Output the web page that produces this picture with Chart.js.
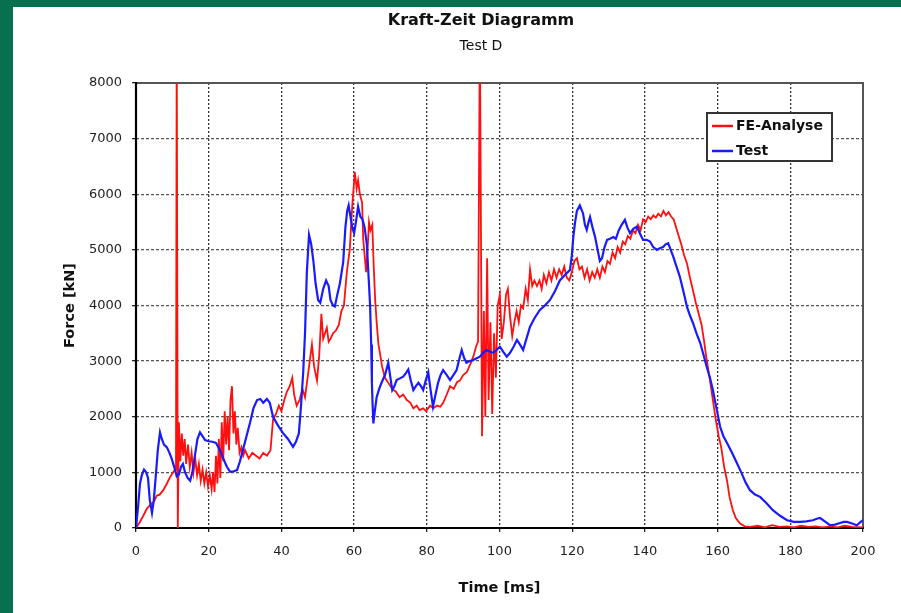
<!DOCTYPE html>
<html><head><meta charset="utf-8">
<script src="https://cdn.jsdelivr.net/npm/chart.js@4.4.1/dist/chart.umd.min.js"></script>
<style>
html,body{margin:0;padding:0;width:901px;height:613px;overflow:hidden;background:#07704f;}
#panel{position:absolute;left:13px;top:7px;width:888px;height:606px;background:#fff;}
#wrap{position:absolute;left:61px;top:0;width:840px;height:613px;}
</style></head><body>
<div id="panel"></div>
<div id="wrap"><canvas id="c" width="840" height="613"></canvas></div>
<script>
// ---- data ----
const chartTitle = 'Kraft-Zeit Diagramm';
const chartSubtitle = 'Test D';
const xTitle = 'Time [ms]';
const yTitle = 'Force [kN]';
const seriesNames = ['FE-Analyse', 'Test'];

const feTime = [0,1,2,3,4,5,5.7,6.5,7.5,8.5,9.4,10.2,10.8,11.0,11.2,11.5,11.8,12.2,12.6,13.0,13.4,13.8,14.3,14.8,15.3,15.8,16.3,16.8,17.3,17.8,18.3,18.8,19.3,19.8,20.3,20.8,21.2,21.6,22.0,22.4,22.8,23.2,23.6,24.0,24.4,24.8,25.2,25.6,26.0,26.4,26.8,27.2,27.6,28.0,28.5,29.0,29.5,30,31,32,33,34,35,36,37,37.7,38.5,39.3,40.0,40.8,41.5,42.3,43.0,43.5,44.2,45.0,45.8,46.5,47.2,47.8,48.4,49.0,49.8,50.4,51.0,51.5,52.0,52.5,53.0,53.5,54.2,55.0,55.8,56.5,57.2,58.0,58.8,59.5,60.2,60.7,61.1,61.6,62.2,62.5,62.9,63.3,63.7,64.1,64.5,65.0,65.4,65.8,66.2,66.7,67.1,67.7,68.5,69.5,70.5,71.5,72.5,73.5,74.5,75.5,76.3,77.2,78.0,79.0,79.8,80.9,81.8,82.8,83.7,84.5,85.5,86.4,87.4,88.3,89.1,90.0,91.0,92.0,92.8,93.5,94.1,94.6,95.2,95.7,96.1,96.6,97.0,97.5,98.0,98.5,99.0,99.5,100.1,100.6,101.2,101.8,102.3,102.9,103.5,104.1,104.7,105.3,105.9,106.5,107.2,107.8,108.4,109.0,109.6,110.3,111.0,111.6,112.2,112.9,113.6,114.3,115.0,115.7,116.4,117.1,117.8,118.5,119.2,119.9,120.6,121.3,122.0,122.7,123.4,124.1,124.8,125.5,126.2,126.9,127.6,128.3,129.0,129.7,130.4,131.1,131.8,132.5,133.2,133.9,134.6,135.3,136.0,136.7,137.4,138.1,138.8,139.5,140.2,140.9,141.6,142.3,143.0,143.7,144.4,145.1,145.8,146.5,147.2,147.9,148.6,149.3,150.0,150.8,151.6,152.4,153.2,154.0,154.8,155.6,156.3,157.0,157.8,158.7,159.5,160.3,161.0,161.8,162.6,163.3,164.2,165.0,166.2,167.5,169,171,173,175,177,179,181,183,185,187,189,191,193,195,197,200];
const feForce = [0,100,220,350,420,480,580,600,680,800,920,1000,1050,1100,9000,0,1900,1200,1700,1300,1600,1150,1500,1100,1350,1000,1250,950,1150,850,1050,800,1000,750,950,700,1000,650,1300,800,1600,900,1900,1200,2100,1500,2000,1400,2300,2550,1700,2100,1500,1800,1350,1450,1300,1400,1250,1350,1300,1250,1350,1300,1400,1950,2050,2200,2100,2300,2450,2550,2700,2400,2200,2300,2500,2350,2700,3000,3300,2900,2650,3100,3850,3400,3500,3600,3350,3400,3500,3550,3650,3900,4000,4600,5000,5800,6400,6100,6250,6000,5850,5200,4900,4600,5000,5500,5350,5450,4700,4100,3700,3300,3150,2900,2700,2600,2500,2450,2350,2400,2300,2250,2150,2200,2120,2150,2100,2200,2150,2200,2180,2250,2400,2550,2500,2620,2650,2750,2800,2950,3080,3250,3350,9000,1650,3900,2000,4850,2300,3700,2050,3500,2700,4000,4200,3400,3700,4200,4300,3800,3450,3700,3900,3700,4000,3950,4300,4100,4650,4350,4450,4350,4450,4300,4550,4400,4600,4450,4650,4500,4650,4550,4700,4500,4450,4600,4800,4850,4650,4700,4500,4650,4450,4600,4500,4650,4500,4700,4600,4800,4750,4950,4850,5050,4950,5150,5100,5250,5200,5350,5300,5450,5350,5550,5500,5600,5550,5620,5580,5650,5600,5700,5620,5680,5600,5550,5400,5250,5100,4900,4750,4500,4280,4050,3850,3650,3350,3020,2700,2300,1950,1650,1450,1100,850,550,320,180,80,30,20,40,10,50,20,30,10,40,20,30,10,30,10,40,20,10];

const testTime = [0,0.6,1.1,1.6,2.2,2.8,3.3,3.8,4.4,4.9,5.4,6.0,6.6,7.1,7.7,8.5,9.2,9.8,10.5,11.2,11.8,12.4,12.9,13.5,14.2,14.9,15.5,16.2,16.9,17.6,18.3,19.0,20.0,21.0,22.0,23.1,24.0,25.0,25.9,26.9,27.8,28.6,29.4,30.4,31.4,32.3,33.3,34.2,35.0,36.0,36.8,37.7,39.0,40.4,41.8,43.2,44.0,44.8,45.4,46.0,46.5,47.0,47.6,48.2,48.8,49.4,50.1,50.7,51.5,52.3,53.0,53.5,54.2,54.7,55.4,56.1,57.0,57.6,58.1,58.5,59.0,59.5,60.0,60.5,61.1,61.7,62.3,62.9,63.5,64.0,64.4,64.7,64.9,65.1,65.3,65.7,66.2,66.9,67.6,68.5,69.4,70.0,70.5,71.1,71.7,72.6,73.5,74.2,74.9,75.6,76.3,77.0,77.7,78.4,79.0,79.7,80.4,81.0,81.7,82.4,83.1,83.8,84.5,85.5,86.4,87.3,88.2,89.0,89.6,90.3,90.9,91.8,92.8,93.7,94.6,95.5,96.5,97.4,98.3,99.2,100.1,101.0,102.0,102.9,103.8,104.8,105.6,106.5,107.4,108.4,109.7,111.1,112.5,113.9,115.2,116.6,118.0,119.4,119.9,120.3,120.8,121.3,122.1,122.6,123.0,123.5,124.0,124.5,124.9,125.6,126.3,127.0,127.6,128.2,128.9,129.6,130.4,131.3,132.0,132.8,133.6,134.5,135.2,135.9,136.8,137.8,138.6,139.5,140.5,141.4,142.3,143.3,144.1,145.0,145.7,146.4,147.1,147.8,148.7,149.6,150.6,151.6,152.4,153.2,154.2,155.2,156.1,157.0,157.9,158.7,159.7,160.7,161.6,162.6,164.0,165.3,166.5,167.7,168.9,170.3,171.7,173.4,175.2,177.2,179.1,181.0,182.7,184.4,186.2,187.5,188.2,189.5,190.9,192.3,193.7,194.7,195.6,197.0,198.3,199.2,200.0];
const testForce = [0,400,800,950,1050,1000,900,500,270,500,900,1400,1720,1600,1500,1450,1350,1250,1100,930,960,1100,1150,1000,900,850,1000,1300,1600,1720,1650,1580,1560,1550,1530,1400,1250,1100,1010,1020,1040,1200,1400,1650,1900,2150,2300,2320,2250,2320,2250,2000,1850,1710,1600,1460,1550,1700,2200,2800,3500,4600,5270,5100,4800,4400,4100,4050,4300,4450,4350,4100,4000,3980,4200,4400,4780,5400,5700,5800,5600,5400,5300,5500,5780,5600,5550,5400,5100,4500,4000,3300,2600,2200,1880,2100,2350,2500,2620,2750,2970,2700,2480,2550,2660,2690,2720,2780,2850,2650,2480,2550,2610,2550,2480,2650,2800,2500,2180,2400,2610,2750,2840,2750,2660,2750,2840,3050,3200,3050,2970,3000,3020,3050,3080,3150,3200,3170,3150,3200,3260,3170,3080,3150,3250,3380,3300,3200,3400,3620,3780,3920,4000,4100,4250,4450,4550,4640,4900,5230,5500,5700,5800,5720,5650,5450,5360,5500,5590,5400,5230,5000,4800,4850,5050,5180,5200,5230,5200,5350,5450,5540,5400,5300,5380,5420,5300,5180,5180,5150,5050,5000,5030,5050,5100,5120,5000,4880,4700,4520,4250,3970,3820,3690,3500,3330,3120,2900,2700,2480,2150,1820,1650,1530,1350,1170,1000,820,680,600,560,450,320,220,140,110,110,120,140,170,180,120,50,60,90,110,110,80,50,100,140];

const xTicksMin = 0, xTicksMax = 200, xStep = 20;
const yTicksMin = 0, yTicksMax = 8000, yStep = 1000;

// ---- build ----
const toPoints = (t, f) => t.map((x, i) => ({x, y: f[i]}));
const FONT = '"DejaVu Sans", "Liberation Sans", sans-serif';

const framePlugin = {
  id: 'frame',
  beforeDatasetsDraw(chart) {
    const {ctx, chartArea: a} = chart;
    ctx.save();
    ctx.strokeStyle = '#555'; ctx.lineWidth = 2;
    ctx.strokeRect(a.left, a.top, a.right - a.left, a.bottom - a.top);
    ctx.strokeStyle = '#000'; ctx.lineWidth = 2.2;
    ctx.beginPath();
    ctx.moveTo(a.left, a.top - 1); ctx.lineTo(a.left, a.bottom); ctx.lineTo(a.right + 1, a.bottom);
    ctx.stroke();
    ctx.restore();
  }
};

const legendPlugin = {
  id: 'boxLegend',
  afterDraw(chart) {
    const {ctx, chartArea: a} = chart;
    const x = a.right - 156, y = a.top + 30, w = 125, h = 48;
    ctx.save();
    ctx.fillStyle = '#fff'; ctx.fillRect(x, y, w, h);
    ctx.strokeStyle = '#333'; ctx.lineWidth = 2; ctx.strokeRect(x, y, w, h);
    chart.data.datasets.forEach((ds, i) => {
      const yy = y + 13 + i * 25;
      ctx.strokeStyle = ds.borderColor; ctx.lineWidth = 2.5;
      ctx.beginPath(); ctx.moveTo(x + 5, yy); ctx.lineTo(x + 26, yy); ctx.stroke();
      ctx.fillStyle = '#111'; ctx.font = 'bold 14px ' + FONT; ctx.textBaseline = 'middle'; ctx.textAlign = 'left';
      ctx.fillText(ds.label, x + 29, yy);
    });
    ctx.restore();
  }
};

new Chart(document.getElementById('c'), {
  type: 'line',
  data: {
    datasets: [
      {label: seriesNames[0], data: toPoints(feTime, feForce), borderColor: '#ff1010', borderWidth: 1.8, pointRadius: 0, tension: 0, order: 1},
      {label: seriesNames[1], data: toPoints(testTime, testForce), borderColor: '#1a1aff', borderWidth: 2.2, pointRadius: 0, tension: 0, order: 0}
    ]
  },
  options: {
    responsive: false,
    animation: false,
    layout: {padding: 0},
    plugins: {
      legend: {display: false},
      tooltip: {enabled: false},
      title: {display: true, text: chartTitle, color: '#111', font: {family: FONT, size: 16, weight: 'bold'}, padding: {top: 11, bottom: 0}},
      subtitle: {display: true, text: chartSubtitle, color: '#111', font: {family: FONT, size: 14}, padding: {top: 8, bottom: 28}}
    },
    scales: {
      x: {
        type: 'linear', min: xTicksMin, max: xTicksMax,
        ticks: {stepSize: xStep, color: '#222', font: {family: FONT, size: 13}, padding: 12, maxRotation: 0, callback: v => String(v)},
        grid: {color: '#333', lineWidth: 1.3, drawTicks: true, tickLength: 4, tickColor: '#222', tickWidth: 1.3, tickBorderDash: []},
        border: {display: false, dash: [2, 2]},
        title: {display: true, text: xTitle, color: '#111', font: {family: FONT, size: 14.5, weight: 'bold'}, padding: {top: 0, bottom: 16}},
        afterFit(s) { s.height = 85; }
      },
      y: {
        type: 'linear', min: yTicksMin, max: yTicksMax,
        ticks: {stepSize: yStep, color: '#222', font: {family: FONT, size: 13}, padding: 10, callback: v => String(v)},
        grid: {color: '#555', lineWidth: 1.3, drawTicks: true, tickLength: 4, tickColor: '#222', tickWidth: 1.3, tickBorderDash: []},
        border: {display: false, dash: [3, 2]},
        title: {display: true, text: yTitle, color: '#111', font: {family: FONT, size: 14.5, weight: 'bold'}, padding: {top: 1, bottom: 0}},
        afterFit(s) { s.width = 75; }
      },
      y2: {
        type: 'linear', position: 'right', display: true, min: 0, max: 1,
        ticks: {display: false}, grid: {display: false}, border: {display: false},
        afterFit(s) { s.width = 38; }
      }
    }
  },
  plugins: [framePlugin, legendPlugin]
});
</script>
</body></html>
